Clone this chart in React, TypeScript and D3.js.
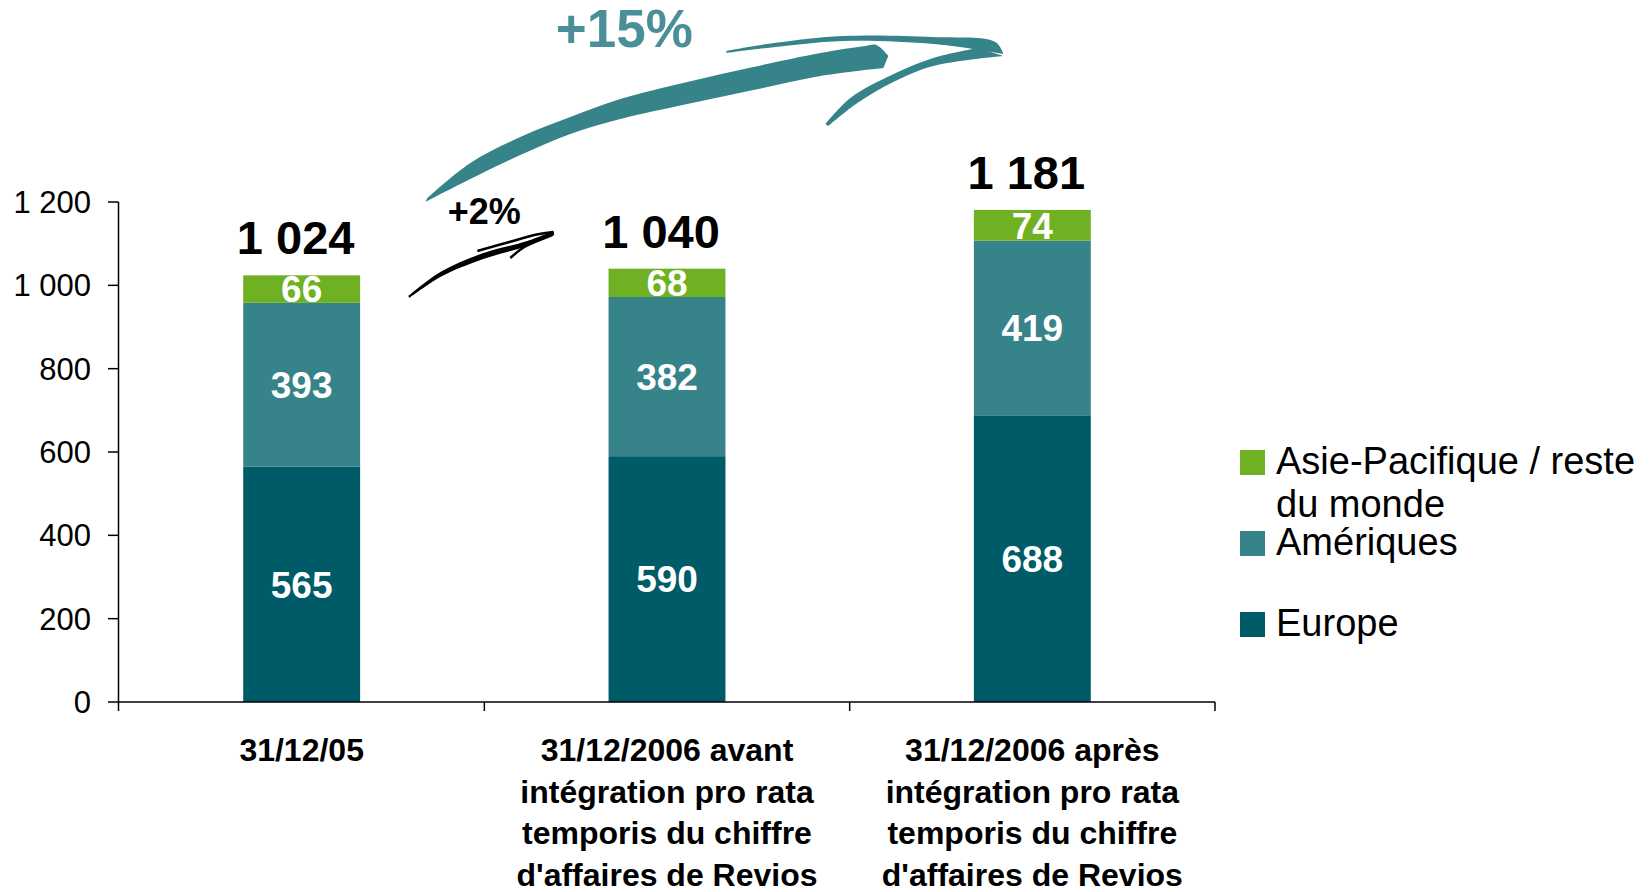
import React from "react";
import * as d3 from "d3";

// chiffre d'affaires par zone
const categories = ["31/12/05", "31/12/2006 avant", "31/12/2006 après"];
const categoryLines = [
  ["31/12/05"],
  ["31/12/2006 avant", "intégration pro rata", "temporis du chiffre", "d'affaires de Revios"],
  ["31/12/2006 après", "intégration pro rata", "temporis du chiffre", "d'affaires de Revios"],
];
const europe = [565, 590, 688];
const ameriques = [393, 382, 419];
const asie = [66, 68, 74];
const totals = [1024, 1040, 1181];
const yTicks = [0, 200, 400, 600, 800, 1000, 1200];
const seriesKeys = ["europe", "ameriques", "asie"];
const legendItems = [
  { key: "asie", lines: ["Asie-Pacifique / reste", "du monde"] },
  { key: "ameriques", lines: ["Amériques"] },
  { key: "europe", lines: ["Europe"] },
];
const growthBig = "+15%";
const growthSmall = "+2%";

const colors = { europe: "#005b68", ameriques: "#37838a", asie: "#6fb122" };
const FONT = "'Liberation Sans', Arial, sans-serif";

const fmt = d3.formatLocale({ decimal: ",", thousands: " ", grouping: [3], currency: ["", "€"] }).format(",d");

// ribbon shape helper for the hand drawn arrows
const smooth = d3.line().curve(d3.curveCatmullRom.alpha(0.5));
const ribbon = (top, bottom) =>
  smooth(top) + smooth(bottom).replace(/^M/, "L") + "Z";

export default function App() {
  const width = 1650;
  const height = 892;

  const x = d3.scaleBand().domain(categories).range([119, 1215]).padding(0);
  const xBar = d3.scaleBand().domain(categories).range([119, 1215]).paddingInner(0.68).paddingOuter(0.34);
  const y = d3.scaleLinear().domain([0, 1200]).range([702, 202]);

  const rows = categories.map((c, i) => ({ cat: c, europe: europe[i], ameriques: ameriques[i], asie: asie[i] }));
  const stacked = d3.stack().keys(seriesKeys)(rows);

  // arrows, anchored on the gap between first and second category
  const ax = x(categories[1]);
  const ay = y(1200);
  const o = (pts) => pts.map(([dx, dy]) => [ax + dx, ay + dy]);

  const tealBody = ribbon(
    o([[-57, -4], [-14, -39], [36, -65], [86, -85], [136, -103], [203, -120], [269, -135], [336, -149], [381, -156], [392, -157], [404, -146]]),
    o([[399, -134], [336, -126], [269, -112], [203, -98], [136, -83], [86, -68], [36, -47], [-14, -23], [-59, 0]])
  );
  const tealUpper = ribbon(
    o([[242, -151], [283, -158], [359, -166], [449, -165], [511, -160], [519, -148]]),
    o([[496, -152], [449, -158], [359, -161], [283, -154], [242, -149]])
  );
  const tealLower = ribbon(
    o([[494, -154], [449, -144], [403, -125], [366, -104], [341, -78]]),
    o([[344, -76], [373, -99], [409, -120], [449, -136], [519, -146]])
  );

  const blackMain = ribbon(
    o([[-76, 94], [-44, 70], [-1, 51], [43, 39], [69, 29]]),
    o([[70, 33], [43, 44], [-1, 57], [-44, 75], [-75, 96]])
  );
  const blackThin = smooth(o([[-7, 49], [25, 40], [50, 33], [69, 30]]));
  const blackBarb = smooth(o([[26, 56], [40, 45], [68, 33]]));

  return (
    <svg
      width={width}
      height={height}
      viewBox={`0 0 ${width} ${height}`}
      style={{ position: "absolute", left: 0, top: 0, background: "#fff" }}
      fontFamily={FONT}
    >
      {/* bars */}
      {stacked.map((layer) => (
        <g key={layer.key} fill={colors[layer.key]}>
          {layer.map((d, i) => (
            <rect
              key={i}
              x={xBar(categories[i])}
              y={y(d[1])}
              width={xBar.bandwidth()}
              height={y(d[0]) - y(d[1])}
            />
          ))}
        </g>
      ))}

      {/* segment labels */}
      {stacked.map((layer) => (
        <g key={"l" + layer.key} fill="#fff" fontWeight="bold" fontSize={37} textAnchor="middle">
          {layer.map((d, i) => (
            <text key={i} x={xBar(categories[i]) + xBar.bandwidth() / 2} y={(y(d[0]) + y(d[1])) / 2} dy="0.36em">
              {d[1] - d[0]}
            </text>
          ))}
        </g>
      ))}

      {/* totals */}
      {totals.map((t, i) => (
        <text
          key={i}
          x={xBar(categories[i]) + xBar.bandwidth() / 2 - 6}
          y={y(t) - 21}
          textAnchor="middle"
          fontWeight="bold"
          fontSize={47}
          fill="#000"
        >
          {fmt(t)}
        </text>
      ))}

      {/* y axis */}
      <g stroke="#000" strokeWidth={1.5}>
        <line x1={118.5} x2={118.5} y1={y(1200)} y2={y(0) + 9} />
        {yTicks.map((t) => (
          <line key={t} x1={108} x2={118.5} y1={y(t)} y2={y(t)} />
        ))}
      </g>
      {yTicks.map((t) => (
        <text key={t} x={91} y={y(t)} dy="0.36em" textAnchor="end" fontSize={31} fill="#000">
          {fmt(t)}
        </text>
      ))}

      {/* x axis */}
      <g stroke="#000" strokeWidth={1.5}>
        <line x1={118} x2={x.range()[1]} y1={y(0)} y2={y(0)} />
        {categories.map((c) => (
          <line key={c} x1={x(c) + x.bandwidth()} x2={x(c) + x.bandwidth()} y1={y(0)} y2={y(0) + 9} />
        ))}
      </g>
      {categoryLines.map((lines, i) => (
        <text
          key={i}
          x={x(categories[i]) + x.bandwidth() / 2}
          y={y(0) + 59}
          textAnchor="middle"
          fontWeight="bold"
          fontSize={32}
          fill="#000"
        >
          {lines.map((l, j) => (
            <tspan key={j} x={x(categories[i]) + x.bandwidth() / 2} dy={j === 0 ? 0 : 41.5}>
              {l}
            </tspan>
          ))}
        </text>
      ))}

      {/* legend */}
      {legendItems.map((it, i) => {
        const top = [450, 531, 612][i];
        return (
          <g key={it.key}>
            <rect x={1240} y={top} width={25} height={25} fill={colors[it.key]} />
            <text x={1276} y={top + 24} fontSize={38} fill="#000">
              {it.lines.map((l, j) => (
                <tspan key={j} x={1276} dy={j === 0 ? 0 : 43}>
                  {l}
                </tspan>
              ))}
            </text>
          </g>
        );
      })}

      {/* growth arrows */}
      <g fill="#37838a">
        <path d={tealBody} />
        <path d={tealUpper} />
        <path d={tealLower} />
      </g>
      <text x={ax + 140} y={ay - 155} textAnchor="middle" fontWeight="bold" fontSize={53} fill="#4a8f98">
        {growthBig}
      </text>
      <path d={blackMain} fill="#000" />
      <path d={blackThin} fill="none" stroke="#000" strokeWidth={2.5} />
      <path d={blackBarb} fill="none" stroke="#000" strokeWidth={2.5} />
      <text x={ax} y={ay + 22} textAnchor="middle" fontWeight="bold" fontSize={36} fill="#000">
        {growthSmall}
      </text>
    </svg>
  );
}
